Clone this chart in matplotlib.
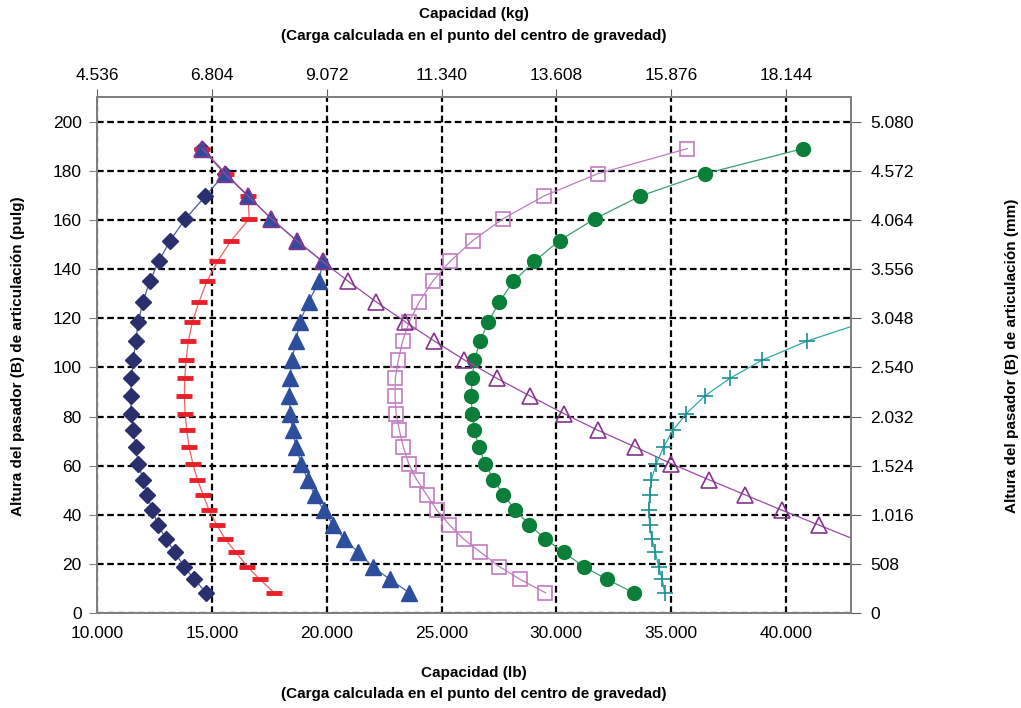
import matplotlib
matplotlib.use("Agg")
import matplotlib.pyplot as plt

plt.rcParams['font.family'] = ['Liberation Sans', 'DejaVu Sans']

# altura del pasador (pulg), comun a las curvas
heights = [8.3, 13.7, 18.9, 24.8, 30.1, 35.9, 41.8, 48.2, 54.3, 60.8, 67.6, 74.4, 81.2,
           88.3, 95.5, 103.0, 110.7, 118.6, 126.7, 135.0, 143.1, 151.6, 160.4, 169.7,
           178.8, 189.0]

# capacidad (lb) de cada curva
diamonds = [14751, 14241, 13792, 13387, 13008, 12659, 12410, 12180, 12005, 11800, 11687,
            11582, 11495, 11469, 11495, 11582, 11687, 11800, 12005, 12296, 12689, 13182,
            13849, 14721, 15567, 14590]
dashes = [17716, 17092, 16552, 16046, 15580, 15218, 14882, 14621, 14372, 14172, 14010,
          13910, 13836, 13805, 13823, 13880, 13980, 14154, 14446, 14782, 15244, 15841,
          16626, 16582, 15610, 14590]
tri_filled = [23600, 22759, 22000, 21377, 20767, 20287, 19865, 19472, 19167, 18893, 18662,
              18513, 18413, 18370, 18400, 18487, 18662, 18836, 19210, 19677, 19821, 18688,
              17598, 16582, 15567, 14590]
squares = [29528, 28426, 27523, 26695, 25967, 25344, 24807, 24354, 23918, 23570, 23339,
           23164, 23021, 22977, 22990, 23121, 23308, 23600, 24036, 24616, 25374, 26360,
           27667, 29454, 31808, 35705]
circles = [33364, 32217, 31197, 30312, 29528, 28831, 28221, 27698, 27262, 26913, 26622,
           26434, 26334, 26290, 26334, 26434, 26682, 27044, 27523, 28133, 29036, 30139,
           31664, 33657, 36472, 40745]
# desde 30.1 pulg (primer punto fuera del grafico)
tri_open = [42950, 41416, 39846, 38204, 36635, 35007, 33437, 31808, 30327, 28862, 27423,
            26000, 24690, 23412, 22148, 20941, 19821, 18688, 17598, 16582, 15567, 14590]
# hasta 118.6 pulg (ultimo punto fuera del grafico)
plus = [34715, 34614, 34453, 34309, 34162, 34062, 34031, 34062, 34136, 34354, 34672,
        35078, 35662, 36459, 37549, 38975, 40919, 43480]

lb_ticks = [10000, 15000, 20000, 25000, 30000, 35000, 40000]
kg_labels = ['4.536', '6.804', '9.072', '11.340', '13.608', '15.876', '18.144']
in_ticks = [0, 20, 40, 60, 80, 100, 120, 140, 160, 180, 200]
mm_labels = ['0', '508', '1.016', '1.524', '2.032', '2.540', '3.048', '3.556', '4.064',
             '4.572', '5.080']

fig = plt.figure(figsize=(10.21, 7.08), dpi=100)
ax = fig.add_axes([0.095, 0.134, 0.7385, 0.729])
ax.set_xlim(10000, 42830)
ax.set_ylim(0, 210)

ax.plot(diamonds, heights, color='#4a5a9a', lw=0.9, marker='D', ms=8.5,
        mfc='#2b2f6e', mec='#2b2f6e', zorder=3)
ax.plot(dashes, heights, color='#f06060', lw=0.9, marker='_', ms=11, mew=3.5,
        mec='#e8202a', zorder=3)
ax.plot(tri_filled, heights, color='#4a64aa', lw=0.9, marker='^', ms=11,
        mfc='#2d4e9c', mec='#2d4e9c', zorder=4)
ax.plot(squares, heights, color='#c07bc0', lw=0.9, marker='s', ms=10.5,
        mfc='none', mec='#c27cc0', mew=1.2, zorder=4)
ax.plot(circles, heights, color='#3aa070', lw=0.9, marker='o', ms=10,
        mfc='#0b7f3a', mec='#0b7f3a', zorder=4)
ax.plot(tri_open, heights[4:], color='#9a4aa8', lw=0.9, marker='^', ms=11,
        mfc='none', mec='#86338f', mew=1.2, markevery=slice(1, None), zorder=5)
ax.plot(plus, heights[:18], color='#30a8a8', lw=0.9, marker='+', ms=12, mew=1.2,
        mec='#1a9090', markevery=slice(0, 17), zorder=5)

ax.set_xticks(lb_ticks)
ax.set_xticklabels([f'{v:,}'.replace(',', '.') for v in lb_ticks])
ax.set_yticks(in_ticks)
ax.grid(True, color='black', ls=(0, (3, 1.6)), lw=1.6, zorder=1)
ax.tick_params(axis='x', length=0, pad=9, labelsize=12.5)
ax.tick_params(axis='y', direction='out', length=6, color='#808080', pad=5, labelsize=12.5)
for s in ax.spines.values():
    s.set_color('#808080')
    s.set_linewidth(1.2)

top = ax.twiny()
top.set_xlim(ax.get_xlim())
top.set_xticks(lb_ticks)
top.set_xticklabels(kg_labels)
top.tick_params(axis='x', direction='out', length=6, color='#606060', pad=4, labelsize=12.5)

right = ax.twinx()
right.set_ylim(ax.get_ylim())
right.set_yticks(in_ticks)
right.set_yticklabels(mm_labels)
right.tick_params(axis='y', direction='out', length=7, color='#606060', pad=7, labelsize=12.5)
for a in (top, right):
    for s in a.spines.values():
        s.set_color('#808080')
        s.set_linewidth(1.2)

fig.text(0.464, 1 - 14 / 708, 'Capacidad (kg)', ha='center', va='center',
         fontsize=11, fontweight='bold')
fig.text(0.464, 1 - 36 / 708, '(Carga calculada en el punto del centro de gravedad)',
         ha='center', va='center', fontsize=11, fontweight='bold')
fig.text(0.464, 1 - 673 / 708, 'Capacidad (lb)', ha='center', va='center',
         fontsize=11, fontweight='bold')
fig.text(0.464, 1 - 694 / 708, '(Carga calculada en el punto del centro de gravedad)',
         ha='center', va='center', fontsize=11, fontweight='bold')
fig.text(18 / 1021, 0.5 - 2 / 708, 'Altura del pasador (B) de articulación (pulg)',
         rotation=90, ha='center', va='center', fontsize=11, fontweight='bold')
fig.text(1012 / 1021, 0.5 - 2 / 708, 'Altura del pasador (B) de articulación (mm)',
         rotation=90, ha='center', va='center', fontsize=11, fontweight='bold')

fig.savefig('out.png', dpi=100)
